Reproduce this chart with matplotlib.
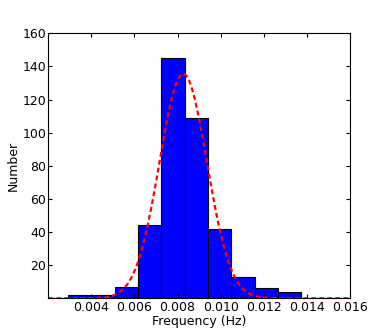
import numpy as np
import matplotlib
matplotlib.use("Agg")
import matplotlib.pyplot as plt

# histogram data
bin_start = 0.00293
bin_width = 0.00108
counts = [2, 2, 7, 44, 145, 109, 42, 13, 6, 4]
# gaussian fit parameters
fit_mu = 0.00826
fit_sigma = 0.0011
fit_peak = 135.5

xticks = [0.004, 0.006, 0.008, 0.010, 0.012, 0.014, 0.016]
yticks = [20, 40, 60, 80, 100, 120, 140, 160]

fig = plt.figure(figsize=(3.89, 3.32), dpi=100)
ax = fig.add_axes([0.124, 0.1015, 0.776, 0.7982])

lefts = bin_start + bin_width * np.arange(len(counts))
ax.bar(lefts, counts, width=bin_width, align='edge', color='#0000ff',
       edgecolor='black', linewidth=0.8)

xs = np.linspace(0.002, 0.016, 400)
ys = fit_peak * np.exp(-(xs - fit_mu) ** 2 / (2 * fit_sigma ** 2))
ax.plot(xs, ys, color='red', linestyle='--', linewidth=1.6, dashes=(2.2, 1.4))

ax.set_xlim(0.002, 0.016)
ax.set_ylim(0, 160)
ax.set_xticks(xticks)
ax.set_xticklabels(['%.3f' % t for t in xticks])
ax.set_yticks(yticks)
ax.tick_params(direction='in', length=3, width=0.8, top=True, right=True,
               labelsize=9)
ax.tick_params(axis='x', pad=2)
ax.tick_params(axis='y', pad=1.5)
for s in ax.spines.values():
    s.set_linewidth(0.8)
ax.set_xlabel('Frequency (Hz)', fontsize=9, labelpad=0.5)
ax.set_ylabel('Number', fontsize=9, labelpad=1.5)

fig.savefig('out.png', dpi=100)
